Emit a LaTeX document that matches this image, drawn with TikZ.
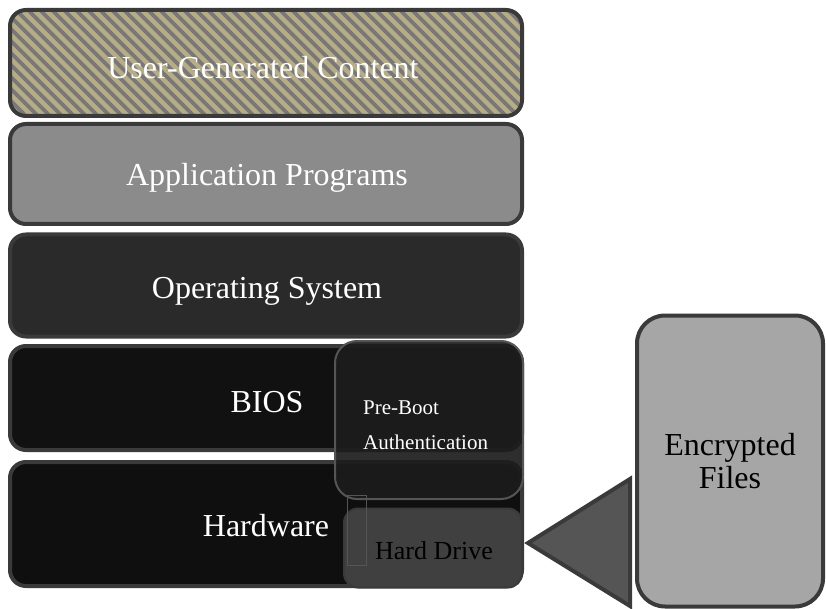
\documentclass[tikz,border=0pt]{standalone}
\usepackage{fontspec}
\setmainfont{Liberation Serif}
\definecolor{bordc}{HTML}{3A3A3A}
\definecolor{stripeg}{HTML}{787878}
\definecolor{stripet}{HTML}{B7AC82}
\definecolor{appc}{HTML}{8B8B8B}
\definecolor{osc}{HTML}{2A2A2A}
\definecolor{biosc}{HTML}{111111}
\definecolor{hwc}{HTML}{0F0F0F}
\definecolor{pbc}{HTML}{1C1C1C}
\definecolor{pbb}{HTML}{555555}
\definecolor{hdc}{HTML}{404040}
\definecolor{tric}{HTML}{555555}
\definecolor{encc}{HTML}{A6A6A6}
\begin{document}
\begin{tikzpicture}[x=1pt,y=-1pt,
  layer/.style={draw=bordc, line width=4pt, rounded corners=16pt, minimum width=512pt, inner sep=0pt},
  ltext/.style={text=white, font=\fontsize{32}{32}\selectfont, inner sep=0pt},
  pbbox/.style={draw=pbb, line width=2pt, rounded corners=22pt, fill=pbc, fill opacity=0.92,
    minimum width=188pt, minimum height=158pt, inner sep=0pt},
  pbtext/.style={text=white, anchor=west, font=\fontsize{21}{21}\selectfont, inner sep=0pt},
  hdbox/.style={draw=bordc, line width=2pt, rounded corners=14pt, fill=hdc,
    minimum width=178pt, minimum height=79pt, inner sep=0pt},
  encbox/.style={draw=bordc, line width=4pt, rounded corners=28pt, fill=encc,
    minimum width=186pt, minimum height=291pt, text=black, align=center,
    font=\fontsize{32}{33}\selectfont, inner sep=0pt},
  smallbox/.style={draw=pbb, line width=0.7pt}
]
\useasboundingbox (0,0) rectangle (826,609);
% stripe layer
\begin{scope}
  \clip[rounded corners=16pt] (10,10) rectangle (522,116);
  \fill[stripeg] (10,10) rectangle (522,116);
  \foreach \a in {-120,-108,...,530}{
    \draw[stripet, line width=4.3pt] (\a,0) -- (\a+130,130);
  }
\end{scope}
\node[layer, minimum height=106pt] (ugc) at (266,63) {};
\node[ltext] (ugct) at (263,68) {User-Generated Content};
\node[layer, fill=appc, minimum height=100pt] (app) at (266,174) {};
\node[ltext] (appt) at (267,178) {Application Programs};
\node[layer, fill=osc, minimum height=102pt] (os) at (266,285.5) {};
\node[ltext] (ost) at (267,291) {Operating System};
\node[layer, fill=biosc, minimum height=104pt] (bios) at (266,398) {};
\node[ltext] (biost) at (267,402) {BIOS};
\node[layer, fill=hwc, minimum height=124pt] (hw) at (266,524) {};
\node[ltext] (hwt) at (266,526) {Hardware};
% pre-boot authentication
\node[pbbox] (pba) at (429,420) {};
\node[pbtext] (pbt1) at (363,408) {Pre-Boot};
\node[pbtext] (pbt2) at (363,442) {Authentication};
% hard drive
\node[hdbox] (hd) at (433,548) {};
\node[text=black, font=\fontsize{26}{26}\selectfont, inner sep=0pt] (hdt) at (434,551) {Hard Drive};
\draw[smallbox] (347,495) rectangle (366,565);
% encrypted files
\node[encbox] (enc) at (730,461) {Encrypted\\Files};
\coordinate (tip) at (528,543);
\coordinate (ttop) at (630,479);
\coordinate (tbot) at (630,606);
\draw[draw=bordc, fill=tric, line width=4pt, line join=miter] (tip) -- (ttop) -- (tbot) -- cycle;
\end{tikzpicture}
\end{document}
